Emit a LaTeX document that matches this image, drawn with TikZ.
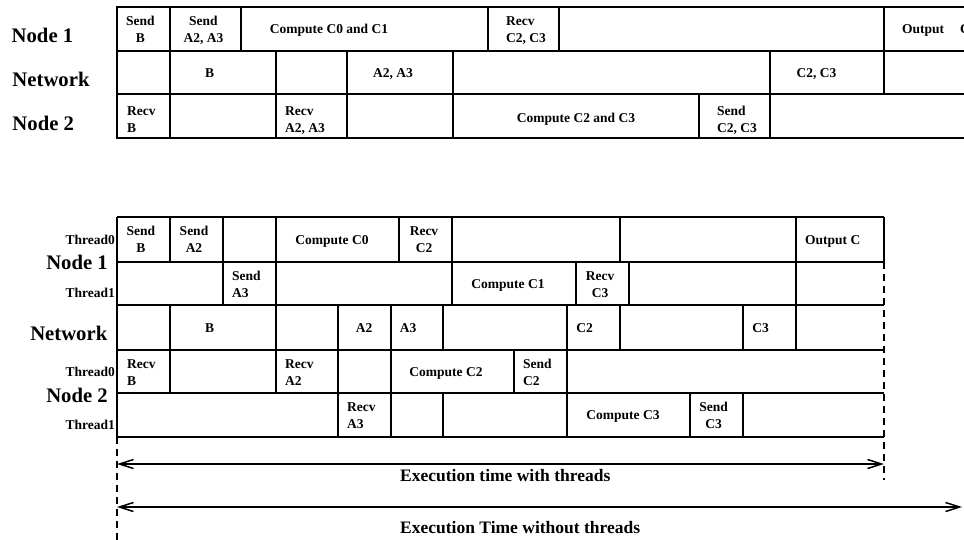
\documentclass[tikz,border=0pt]{standalone}
\usepackage{fontspec}
\setmainfont{Liberation Serif}
\usetikzlibrary{arrows.meta}

% two-line cell labels: last baseline at the given point
\newcommand\twoc[5]{\node[cell,anchor=base] (#1) at (#2,#3) {\begin{tabular}[b]{@{}c@{}}#4\\#5\end{tabular}};}
\newcommand\twol[5]{\node[cell,anchor=base west] (#1) at (#2,#3) {\begin{tabular}[b]{@{}l@{}}#4\\#5\end{tabular}};}

\tikzset{
  grid/.style={line width=1.5pt, line join=miter},
  dline/.style={line width=1.5pt, dash pattern=on 7pt off 5pt},
  span/.style={line width=1.5pt, {Straight Barb[length=14pt,width=9pt]}-{Straight Barb[length=14pt,width=9pt]}},
  cell/.style={font=\bfseries\fontsize{13.5}{17}\selectfont, inner sep=0pt},
  head/.style={font=\bfseries\fontsize{20.7}{24}\selectfont, inner sep=0pt},
  thr/.style={font=\bfseries\fontsize{13.5}{17}\selectfont, inner sep=0pt},
  exec/.style={font=\bfseries\fontsize{17.5}{21}\selectfont, inner sep=0pt},
}

\begin{document}
\begin{tikzpicture}[x=1pt,y=-1pt]
\clip (0,0) rectangle (964,539);

% ---------------- without threads ----------------
\draw[grid] (975,7) -| (117,138) -- (975,138);
\draw[grid] (117,51) -- (975,51);
\draw[grid] (117,94) -- (975,94);
\foreach \x in {170,241,488,559,884} \draw[grid] (\x,7) -- (\x,51);
\foreach \x in {170,276,347,453,770,884} \draw[grid] (\x,51) -- (\x,94);
\foreach \x in {170,276,347,453,699,770} \draw[grid] (\x,94) -- (\x,138);

\node[head,anchor=base west] (hA1) at (11.5,42.7) {Node 1};
\node[head,anchor=base west] (hAN) at (12.3,86) {Network};
\node[head,anchor=base west] (hA2) at (12.3,130) {Node 2};

% Node 1
\twoc{a1}{140.5}{42.3}{Send}{B}
\twoc{a2}{203.5}{42.3}{Send}{A2, A3}
\node[cell,anchor=base] (a3) at (329,33.5) {Compute C0 and C1};
\twol{a4}{506}{42.3}{Recv}{C2, C3}
\node[cell,anchor=base west] (a5) at (902,33.5) {Output\hspace{12.6pt} C};
% Network
\node[cell,anchor=base] (an1) at (209.5,77) {B};
\node[cell,anchor=base] (an2) at (393,77) {A2, A3};
\node[cell,anchor=base] (an3) at (816.5,77) {C2, C3};
% Node 2
\twol{ab1}{127}{132.7}{Recv}{B}
\twol{ab2}{285}{132.7}{Recv}{A2, A3}
\node[cell,anchor=base] (ab3) at (576,122.5) {Compute C2 and C3};
\twol{ab4}{717}{132.7}{Send}{C2, C3}

% ---------------- with threads ----------------
\foreach \y in {217,262,305,350,393,437} \draw[grid] (117,\y) -- (884,\y);
\draw[grid] (117,217) -- (117,437);
\draw[grid] (884,217) -- (884,262);
\foreach \x in {170,223,276,399,452,620,796} \draw[grid] (\x,217) -- (\x,262);
\foreach \x in {223,276,452,576,629,796} \draw[grid] (\x,262) -- (\x,305);
\foreach \x in {170,276,338,391,443,567,620,743,796} \draw[grid] (\x,305) -- (\x,350);
\foreach \x in {170,276,338,391,514,567} \draw[grid] (\x,350) -- (\x,393);
\foreach \x in {338,391,443,567,690,743} \draw[grid] (\x,393) -- (\x,437);

\node[thr,anchor=base east] (t10) at (115,244) {Thread0};
\node[head,anchor=base east] (hB1) at (108,269) {Node 1};
\node[thr,anchor=base east] (t11) at (115,297) {Thread1};
\node[head,anchor=base east] (hBN) at (107.5,340) {Network};
\node[thr,anchor=base east] (t20) at (115,376) {Thread0};
\node[head,anchor=base east] (hB2) at (108,402) {Node 2};
\node[thr,anchor=base east] (t21) at (115,429) {Thread1};

% Node 1, thread 0
\twoc{b1}{141}{252}{Send}{B}
\twoc{b2}{194}{252}{Send}{A2}
\node[cell,anchor=base] (b3) at (332,244) {Compute C0};
\twoc{b4}{424}{252}{Recv}{C2}
\node[cell,anchor=base west] (b5) at (805,244) {Output C};
% Node 1, thread 1
\twol{c1}{232}{297}{Send}{A3}
\node[cell,anchor=base] (c2) at (508,288) {Compute C1};
\twoc{c3}{600}{297}{Recv}{C3}
% Network
\node[cell,anchor=base] (n1) at (209.5,332) {B};
\node[cell,anchor=base] (n2) at (364,332) {A2};
\node[cell,anchor=base] (n3) at (408,332) {A3};
\node[cell,anchor=base] (n4) at (584.5,332) {C2};
\node[cell,anchor=base] (n5) at (760.5,332) {C3};
% Node 2, thread 0
\twol{d1}{127}{385}{Recv}{B}
\twol{d2}{285}{385}{Recv}{A2}
\node[cell,anchor=base] (d3) at (446,376) {Compute C2};
\twol{d4}{523}{385}{Send}{C2}
% Node 2, thread 1
\twol{e1}{347}{428}{Recv}{A3}
\node[cell,anchor=base] (e2) at (623,419.5) {Compute C3};
\twoc{e3}{713.5}{428}{Send}{C3}

% ---------------- execution time spans ----------------
\coordinate (lt) at (117,437);
\coordinate (lb) at (117,545);
\coordinate (rt) at (884,262);
\coordinate (rb) at (884,480);
\draw[dline] (lt) -- (lb);
\draw[dline] (rt) -- (rb);

\coordinate (s1l) at (117,464);
\coordinate (s1r) at (884,464);
\coordinate (s2l) at (117,507);
\coordinate (s2r) at (962,507);
\draw[span] (s1l) -- (s1r);
\draw[span] (s2l) -- (s2r);
\node[exec,anchor=base west] (x1) at (400,481) {Execution time with threads};
\node[exec,anchor=base west] (x2) at (400,533) {Execution Time without threads};
\end{tikzpicture}
\end{document}
